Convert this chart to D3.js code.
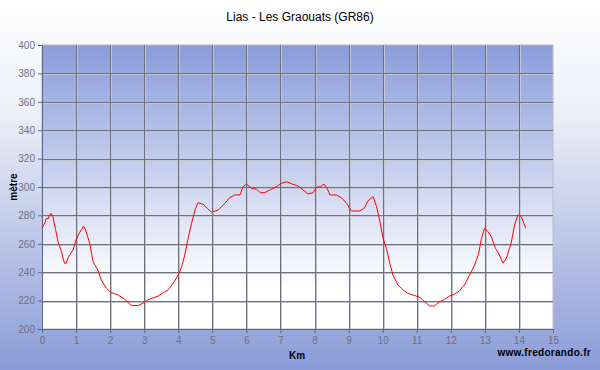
<!DOCTYPE html>
<html>
<head>
<meta charset="utf-8">
<script src="https://cdn.jsdelivr.net/npm/d3@7"></script>
<style>
  body { margin: 0; padding: 0; }
  svg { display: block; font-family: "Liberation Sans", Arial, sans-serif; }
</style>
</head>
<body>
<div id="chart"></div>
<script>
// profile data
const km = [0.00, 0.07, 0.13, 0.18, 0.22, 0.27, 0.32, 0.40, 0.47, 0.57, 0.66, 0.71, 0.76, 0.81, 0.91,
  1.00, 1.10, 1.16, 1.22, 1.28, 1.40, 1.50, 1.64, 1.74, 1.89, 2.03, 2.23, 2.42, 2.62, 2.82, 2.99,
  3.10, 3.22, 3.41, 3.56, 3.70, 3.85, 4.00, 4.10, 4.19, 4.29, 4.39, 4.49, 4.58, 4.73, 4.85, 4.98,
  5.17, 5.37, 5.51, 5.66, 5.81, 5.90, 6.00, 6.15, 6.30, 6.41, 6.54, 6.69, 6.88, 7.03, 7.18, 7.37,
  7.52, 7.66, 7.81, 7.96, 8.06, 8.17, 8.28, 8.37, 8.45, 8.64, 8.79, 8.94, 9.08, 9.33, 9.47, 9.57,
  9.72, 9.82, 9.91, 10.01, 10.11, 10.21, 10.30, 10.45, 10.60, 10.74, 10.89, 11.09, 11.23, 11.38,
  11.52, 11.67, 11.82, 11.96, 12.06, 12.26, 12.40, 12.55, 12.70, 12.82, 12.89, 12.99, 13.09, 13.19,
  13.31, 13.43, 13.53, 13.63, 13.77, 13.87, 13.97, 14.07, 14.20];
const altitude = [271, 274, 278, 277.5, 280, 281.5, 279, 270, 261.5, 254.5, 246.3, 246.3, 250, 252, 255.6,
  262.7, 267.8, 270, 272.5, 269.7, 260.3, 247.4, 241.5, 234.5, 228.7, 225.6, 224, 221, 216.7, 216.4, 218.5,
  220.5, 221.6, 223.2, 225.6, 227.5, 232.2, 238, 243.9, 252.1, 263.9, 274.4, 283.8, 289, 287.8, 285, 282.2,
  283.8, 288.5, 292.5, 294.4, 294.4, 300.2, 302.1, 299.1, 298.4, 296, 296, 297.9, 300.2, 302.6, 303.7, 301.9,
  300.7, 297.9, 295.1, 296, 299.8, 300.2, 302.1, 299.1, 294.4, 294.4, 292.5, 288.5, 283.1, 283.1, 285.4, 290.3,
  293.2, 286.2, 276.8, 263.9, 256.8, 246.3, 238, 231, 227.5, 225.1, 223.9, 222.3, 219.2, 216.2,
  216.2, 219.2, 220.9, 223.2, 223.9, 227, 231, 238, 245, 253.3, 262.7, 270.9, 268.5, 265,
  256.8, 252.1, 246.3, 249.8, 260.3, 273.2, 280.3, 279, 270.9];

const xTicks = d3.range(0, 16);            // 0..15 km
const yTicks = d3.range(200, 401, 20);     // 200..400 m

const title = "Lias - Les Graouats (GR86)";
const xTitle = "Km";
const yTitle = "mètre";
const credit = "www.fredorando.fr";

const width = 600, height = 370;
const margin = { top: 45, right: 47, bottom: 41, left: 42 };
const plotW = width - margin.left - margin.right;
const plotH = height - margin.top - margin.bottom;

const svg = d3.select("#chart").append("svg")
  .attr("width", width)
  .attr("height", height);

const defs = svg.append("defs");

const bgGrad = defs.append("linearGradient")
  .attr("id", "bgGrad").attr("x1", 0).attr("x2", 0).attr("y1", 0).attr("y2", 1);
bgGrad.append("stop").attr("offset", "0%").attr("stop-color", "#ffffff");
bgGrad.append("stop").attr("offset", "30%").attr("stop-color", "#eef0f8");
bgGrad.append("stop").attr("offset", "100%").attr("stop-color", "#8a9cd8");

const plotGrad = defs.append("linearGradient")
  .attr("id", "plotGrad").attr("x1", 0).attr("x2", 0).attr("y1", 0).attr("y2", 1);
plotGrad.append("stop").attr("offset", "0%").attr("stop-color", "#8a9cdb");
plotGrad.append("stop").attr("offset", "85%").attr("stop-color", "#ffffff");
plotGrad.append("stop").attr("offset", "100%").attr("stop-color", "#ffffff");

svg.append("rect")
  .attr("width", width).attr("height", height)
  .attr("fill", "url(#bgGrad)");

const g = svg.append("g")
  .attr("transform", `translate(${margin.left},${margin.top})`);

const x = d3.scaleLinear().domain([0, 15]).range([0, plotW]);
const y = d3.scaleLinear().domain([200, 400]).range([plotH, 0]);

g.append("rect")
  .attr("width", plotW).attr("height", plotH)
  .attr("fill", "url(#plotGrad)")
  .attr("stroke", "#b8bcc8")
  .attr("stroke-width", 1);

// grid (with a faint shadow line like the original)
const grid = g.append("g").attr("class", "grid");
grid.selectAll(".vshadow")
  .data(xTicks.slice(1, -1))
  .enter().append("line")
  .attr("x1", d => Math.round(x(d)) + 1.5).attr("x2", d => Math.round(x(d)) + 1.5)
  .attr("y1", 0).attr("y2", plotH)
  .attr("stroke", "#c4c8d4");
grid.selectAll(".hshadow")
  .data(yTicks.slice(1, -1))
  .enter().append("line")
  .attr("x1", 0).attr("x2", plotW)
  .attr("y1", d => Math.round(y(d)) + 1.5).attr("y2", d => Math.round(y(d)) + 1.5)
  .attr("stroke", "#c4c8d4");
grid.selectAll(".vline")
  .data(xTicks.slice(1, -1))
  .enter().append("line")
  .attr("x1", d => Math.round(x(d)) + 0.5).attr("x2", d => Math.round(x(d)) + 0.5)
  .attr("y1", 0).attr("y2", plotH)
  .attr("stroke", "#6e7078");
grid.selectAll(".hline")
  .data(yTicks.slice(1, -1))
  .enter().append("line")
  .attr("x1", 0).attr("x2", plotW)
  .attr("y1", d => Math.round(y(d)) + 0.5).attr("y2", d => Math.round(y(d)) + 0.5)
  .attr("stroke", "#6e7078");

// axes
const xAxis = g.append("g")
  .attr("transform", `translate(0,${plotH})`)
  .call(d3.axisBottom(x).tickValues(xTicks).tickSize(4).tickPadding(4));
const yAxis = g.append("g")
  .call(d3.axisLeft(y).tickValues(yTicks).tickSize(4).tickPadding(3));

[xAxis, yAxis].forEach(ax => {
  ax.select(".domain").attr("stroke", "#5a6690");
  ax.selectAll(".tick line").attr("stroke", "#5a6690");
  ax.selectAll(".tick text")
    .attr("fill", "#6c7080")
    .style("font-size", "10px")
    .style("font-family", "'Liberation Sans', Arial, sans-serif");
});

// profile line
const line = d3.line()
  .x((d, i) => x(km[i]))
  .y(d => y(d));

g.append("path")
  .datum(altitude)
  .attr("fill", "none")
  .attr("stroke", "#ff0000")
  .attr("stroke-width", 1)
  .attr("d", line);

// texts
svg.append("text")
  .attr("x", 300).attr("y", 21)
  .attr("text-anchor", "middle")
  .style("font-size", "12px")
  .attr("fill", "#000")
  .text(title);

svg.append("text")
  .attr("transform", "translate(17,187) rotate(-90)")
  .attr("text-anchor", "middle")
  .style("font-size", "10px")
  .style("font-weight", "bold")
  .attr("fill", "#000")
  .text(yTitle);

svg.append("text")
  .attr("x", 297).attr("y", 359)
  .attr("text-anchor", "middle")
  .style("font-size", "10px")
  .style("font-weight", "bold")
  .attr("fill", "#000")
  .text(xTitle);

svg.append("text")
  .attr("x", 591).attr("y", 356)
  .attr("text-anchor", "end")
  .style("font-size", "10px")
  .style("font-weight", "bold")
  .style("letter-spacing", "0.3px")
  .attr("fill", "#000")
  .text(credit);
</script>
</body>
</html>
